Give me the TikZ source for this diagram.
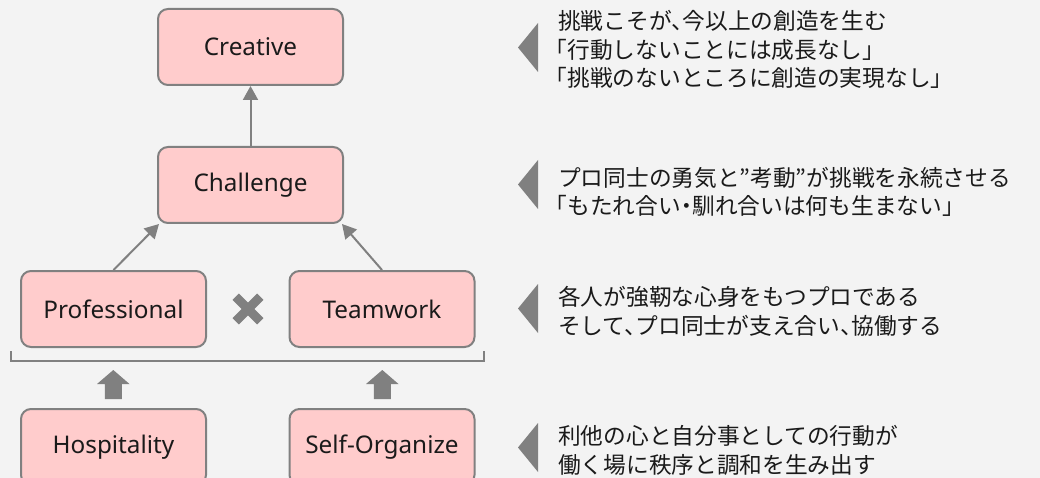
\documentclass[tikz,border=0pt]{standalone}
\usepackage{fontspec}
\setmainfont{Noto Sans}
\newfontfamily\jpfont[RawFeature=+halt]{Noto Sans CJK JP}
\usetikzlibrary{arrows.meta,calc}
\definecolor{bgc}{HTML}{F3F3F3}
\definecolor{boxfill}{HTML}{FFCCCC}
\definecolor{linec}{HTML}{808080}
\definecolor{txt}{HTML}{1A1A1A}
\tikzset{
  stagebox/.style={draw=linec, fill=boxfill, line width=2pt, rounded corners=10pt,
    minimum width=185pt, minimum height=76pt, inner sep=0pt, text=txt,
    font=\fontsize{24.3}{28}\selectfont},
  conn/.style={draw=linec, line width=2pt, -{Triangle[width=15pt,length=14pt]}},
  jptext/.style={anchor=west, inner sep=0pt, text=txt, font=\jpfont\fontsize{22.7}{28}\selectfont},
  pointer/.style={fill=linec, draw=none},
  blockarrow/.style={fill=linec, draw=none}
}
\begin{document}
\begin{tikzpicture}[x=1pt,y=-1pt]
\fill[bgc] (0,0) rectangle (1040,478);
\useasboundingbox (0,0) rectangle (1040,478);
\clip (0,0) rectangle (1040,478);
% boxes
\node[stagebox] (creative) at (250.5,47) {Creative};
\node[stagebox] (challenge) at (250.5,185) {Challenge};
\node[stagebox] (professional) at (113.5,309) {Professional};
\node[stagebox] (teamwork) at (382,309) {Teamwork};
\node[stagebox] (hospitality) at (113.5,447) {Hospitality};
\node[stagebox] (selforg) at (382,447) {Self-Organize};
% connectors
\draw[conn] (challenge.north) -- (creative.south);
\draw[conn] (professional.north) -- ([xshift=2pt]challenge.south west);
\draw[conn] (teamwork.north) -- ([xshift=-2pt]challenge.south east);
% cross mark
\coordinate (xm) at (248,309);
\draw[linec, line width=9pt] ($(xm)+(-12.3,-12.3)$) -- ($(xm)+(12.3,12.3)$);
\draw[linec, line width=9pt] ($(xm)+(-12.3,12.3)$) -- ($(xm)+(12.3,-12.3)$);
% bracket
\draw[linec, line width=2pt] (11,351) -- (11,361) -- (484,361) -- (484,351);
% block arrows
\fill[blockarrow] (113.3,370) -- (129.5,384) -- (121.8,384) -- (121.8,399) -- (104.8,399) -- (104.8,384) -- (97,384) -- cycle;
\fill[blockarrow] (382.3,370) -- (398.5,384) -- (390.8,384) -- (390.8,399) -- (373.8,399) -- (373.8,384) -- (366,384) -- cycle;
% pointers
\fill[pointer] (538,23) -- (538,72) -- (518,47.5) -- cycle;
\fill[pointer] (538,160) -- (538,209) -- (518,184.5) -- cycle;
\fill[pointer] (538,284) -- (538,333) -- (518,308.5) -- cycle;
\fill[pointer] (538,423) -- (538,472) -- (518,447.5) -- cycle;
% texts
\node[jptext] (t1a) at (558,21) {挑戦こそが、今以上の創造を生む};
\node[jptext] (t1b) at (556,49.5) {「行動しないことには成長なし」};
\node[jptext] (t1c) at (556,78) {「挑戦のないところに創造の実現なし」};
\node[jptext] (t2a) at (558,177.5) {プロ同士の勇気と”考動”が挑戦を永続させる};
\node[jptext] (t2b) at (556,206) {「もたれ合い・馴れ合いは何も生まない」};
\node[jptext] (t3a) at (558,297) {各人が強靭な心身をもつプロである};
\node[jptext] (t3b) at (558,325.5) {そして、プロ同士が支え合い、協働する};
\node[jptext] (t4a) at (558,436) {利他の心と自分事としての行動が};
\node[jptext] (t4b) at (558,464.5) {働く場に秩序と調和を生み出す};
\end{tikzpicture}
\end{document}
